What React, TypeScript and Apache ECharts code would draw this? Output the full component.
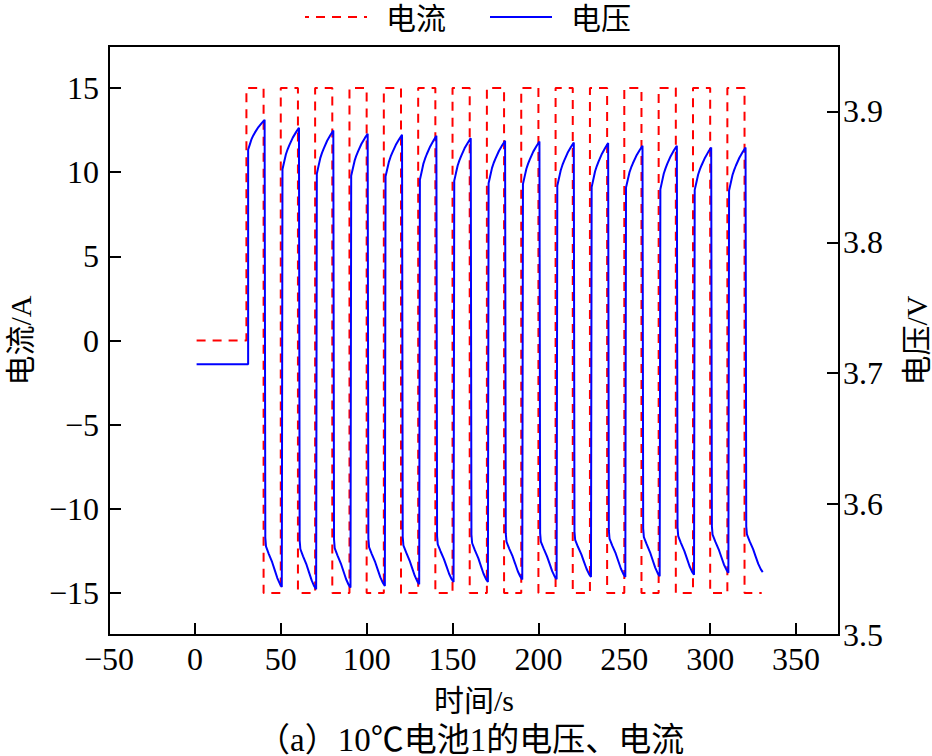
import React, { useEffect, useRef } from "react";
import * as echarts from "echarts";

// ---- data ----
const legendNames = ["电流", "电压"];
const xTitle = "时间/s";
const yLeftTitle = "电流/A";
const yRightTitle = "电压/V";
const captionText = "（a）10℃电池1的电压、电流";

// current: level i holds from currentSwitchTimes[i] to currentSwitchTimes[i+1]
const currentSwitchTimes = [1, 30, 40, 50, 60, 70, 80, 90, 100, 110, 120, 130, 140, 150, 160, 170, 180, 190, 200, 210, 220, 230, 240, 250, 260, 270, 280, 290, 300, 310, 320, 330];
const currentLevels = [0, 15, -15, 15, -15, 15, -15, 15, -15, 15, -15, 15, -15, 15, -15, 15, -15, 15, -15, 15, -15, 15, -15, 15, -15, 15, -15, 15, -15, 15, -15];

// voltage
const voltageRestTimes = [1, 31];
const voltageRest = 3.7068;
const pulseStartTimes = [31, 51, 71, 91, 111, 131, 151, 171, 191, 211, 231, 251, 271, 291, 311];
const highOffsets = [0, 1, 2, 3, 4, 6, 8, 9.6];
const lowOffsets = [0, 0.4, 2, 4, 5.5, 7, 8.5, 9.6];
const lowDelay = 10;
const voltageHigh = [
  [3.8707, 3.8748, 3.8789, 3.8817, 3.884, 3.8881, 3.8913, 3.8936],
  [3.8559, 3.8616, 3.8673, 3.8711, 3.8743, 3.88, 3.8844, 3.8876],
  [3.8524, 3.8584, 3.8643, 3.8683, 3.8716, 3.8776, 3.8822, 3.8855],
  [3.8508, 3.8566, 3.8624, 3.8663, 3.8695, 3.8753, 3.8798, 3.883],
  [3.8503, 3.856, 3.8617, 3.8656, 3.8687, 3.8745, 3.8789, 3.8821],
  [3.8478, 3.8538, 3.8599, 3.8639, 3.8673, 3.8733, 3.878, 3.8814],
  [3.847, 3.8529, 3.8587, 3.8626, 3.8659, 3.8718, 3.8763, 3.8796],
  [3.8452, 3.851, 3.8569, 3.8608, 3.864, 3.8698, 3.8744, 3.8776],
  [3.8445, 3.8504, 3.8562, 3.8601, 3.8634, 3.8693, 3.8738, 3.8771],
  [3.8432, 3.8492, 3.8551, 3.8591, 3.8624, 3.8684, 3.873, 3.8763],
  [3.8422, 3.8482, 3.8543, 3.8583, 3.8617, 3.8677, 3.8724, 3.8758],
  [3.8419, 3.8476, 3.8534, 3.8572, 3.8604, 3.8661, 3.8706, 3.8738],
  [3.8406, 3.8466, 3.8526, 3.8565, 3.8599, 3.8658, 3.8705, 3.8738],
  [3.8401, 3.8459, 3.8518, 3.8557, 3.8589, 3.8647, 3.8693, 3.8725],
  [3.8396, 3.8455, 3.8514, 3.8554, 3.8587, 3.8646, 3.8692, 3.8725],
];
const voltageLow = [
  [3.5745, 3.5677, 3.562, 3.5556, 3.5496, 3.5435, 3.539, 3.5367],
  [3.5724, 3.5657, 3.5601, 3.5537, 3.5477, 3.5417, 3.5372, 3.535],
  [3.573, 3.5664, 3.5609, 3.5546, 3.5487, 3.5428, 3.5384, 3.5362],
  [3.5737, 3.5672, 3.5618, 3.5556, 3.5498, 3.544, 3.5397, 3.5375],
  [3.575, 3.5685, 3.5631, 3.5569, 3.5511, 3.5453, 3.541, 3.5388],
  [3.5755, 3.5692, 3.564, 3.558, 3.5524, 3.5468, 3.5426, 3.5405],
  [3.5768, 3.5703, 3.5648, 3.5587, 3.5528, 3.547, 3.5427, 3.5405],
  [3.5776, 3.5713, 3.566, 3.56, 3.5544, 3.5487, 3.5445, 3.5424],
  [3.5778, 3.5714, 3.5662, 3.5601, 3.5545, 3.5488, 3.5446, 3.5426],
  [3.5788, 3.5726, 3.5674, 3.5616, 3.5561, 3.5506, 3.5465, 3.5444],
  [3.5801, 3.5737, 3.5683, 3.5623, 3.5565, 3.5508, 3.5465, 3.5444],
  [3.5814, 3.5748, 3.5694, 3.5632, 3.5573, 3.5515, 3.5471, 3.5449],
  [3.5821, 3.5756, 3.5702, 3.5641, 3.5583, 3.5525, 3.5482, 3.546],
  [3.583, 3.5766, 3.5713, 3.5653, 3.5596, 3.5539, 3.5497, 3.5475],
  [3.5831, 3.5768, 3.5715, 3.5656, 3.5599, 3.5543, 3.5501, 3.548],
];

function buildCurrent(): number[][] {
  const pts: number[][] = [];
  for (let i = 0; i < currentLevels.length; i++) {
    pts.push([currentSwitchTimes[i], currentLevels[i]]);
    pts.push([currentSwitchTimes[i + 1], currentLevels[i]]);
  }
  return pts;
}

function buildVoltage(): number[][] {
  const pts: number[][] = voltageRestTimes.map((t) => [t, voltageRest]);
  pulseStartTimes.forEach((s, k) => {
    highOffsets.forEach((o, j) => pts.push([s + o, voltageHigh[k][j]]));
    lowOffsets.forEach((o, j) => pts.push([s + lowDelay + o, voltageLow[k][j]]));
  });
  return pts;
}

const FONT = '"Liberation Serif", "Times New Roman", "Noto Sans CJK SC", serif';
const RED = "#ff0000";
const BLUE = "#0000ff";

export default function App() {
  const ref = useRef<HTMLDivElement>(null);
  useEffect(() => {
    if (!ref.current) return;
    const chart = echarts.init(ref.current, null, { renderer: "svg" });
    const axisLine = { show: true, onZero: false, lineStyle: { color: "#000", width: 2 } };
    const axisTick = { show: true, inside: true, length: 12, lineStyle: { color: "#000", width: 2 } };
    const legendTextStyle = { fontFamily: FONT, fontSize: 30, fill: "#000", verticalAlign: "middle" };
    chart.setOption({
      animation: false,
      backgroundColor: "#fff",
      textStyle: { fontFamily: FONT, color: "#000" },
      title: {
        text: captionText,
        left: 252,
        top: 718,
        textStyle: { fontFamily: FONT, fontSize: 33, fontWeight: "normal", color: "#000" },
      },
      graphic: [
        {
          type: "line",
          shape: { x1: 305, y1: 17, x2: 367, y2: 17 },
          style: { stroke: RED, lineWidth: 2, lineDash: [9, 7], lineDashOffset: 5 },
        },
        { type: "text", x: 386, y: 18, style: { ...legendTextStyle, text: legendNames[0] } },
        {
          type: "line",
          shape: { x1: 490, y1: 17, x2: 552, y2: 17 },
          style: { stroke: BLUE, lineWidth: 2 },
        },
        { type: "text", x: 571, y: 18, style: { ...legendTextStyle, text: legendNames[1] } },
      ],
      grid: {
        left: 109,
        right: 93,
        top: 46,
        bottom: 121,
        show: true,
        borderColor: "#000",
        borderWidth: 2,
        containLabel: false,
        outerBoundsMode: "none",
      },
      xAxis: {
        type: "value",
        min: -50,
        max: 375,
        interval: 50,
        name: xTitle,
        nameLocation: "middle",
        nameGap: 50,
        nameTextStyle: { fontFamily: FONT, fontSize: 30, color: "#000" },
        axisLine,
        axisTick,
        splitLine: { show: false },
        axisLabel: {
          fontFamily: FONT,
          fontSize: 32,
          color: "#000",
          margin: 8,
          formatter: (v: number) => (v % 50 === 0 ? String(v).replace("-", "\u2212") : ""),
        },
      },
      yAxis: [
        {
          type: "value",
          min: -17.5,
          max: 17.5,
          minInterval: 5,
          maxInterval: 5,
          name: yLeftTitle,
          nameLocation: "middle",
          nameRotate: 90,
          nameGap: 74,
          nameTextStyle: { fontFamily: FONT, fontSize: 30, color: "#000" },
          axisLine,
          axisTick,
          splitLine: { show: false },
          axisLabel: {
            fontFamily: FONT,
            fontSize: 32,
            color: "#000",
            margin: 10,
            formatter: (v: number) => (Math.abs(v % 5) < 1e-9 ? String(v).replace("-", "\u2212") : ""),
          },
        },
        {
          type: "value",
          min: 3.5,
          max: 3.95,
          minInterval: 0.1,
          maxInterval: 0.1,
          position: "right",
          name: yRightTitle,
          nameLocation: "middle",
          nameRotate: 90,
          nameGap: 62,
          nameTextStyle: { fontFamily: FONT, fontSize: 30, color: "#000" },
          axisLine,
          axisTick,
          splitLine: { show: false },
          axisLabel: {
            fontFamily: FONT,
            fontSize: 32,
            color: "#000",
            margin: 4,
            formatter: (v: number) => (Math.abs(v * 10 - Math.round(v * 10)) < 1e-6 ? v.toFixed(1) : ""),
          },
        },
      ],
      series: [
        {
          name: legendNames[0],
          type: "line",
          yAxisIndex: 0,
          data: buildCurrent(),
          showSymbol: false,
          symbol: "none",
          lineStyle: { color: RED, width: 2, type: [9, 7] },
          itemStyle: { color: RED },
          z: 2,
        },
        {
          name: legendNames[1],
          type: "line",
          yAxisIndex: 1,
          data: buildVoltage(),
          showSymbol: false,
          symbol: "none",
          lineStyle: { color: BLUE, width: 2 },
          itemStyle: { color: BLUE },
          z: 3,
        },
      ],
    });
    return () => chart.dispose();
  }, []);
  return (
    <div
      ref={ref}
      style={{ position: "fixed", left: 0, top: 0, width: 932, height: 756, background: "#fff" }}
    />
  );
}
